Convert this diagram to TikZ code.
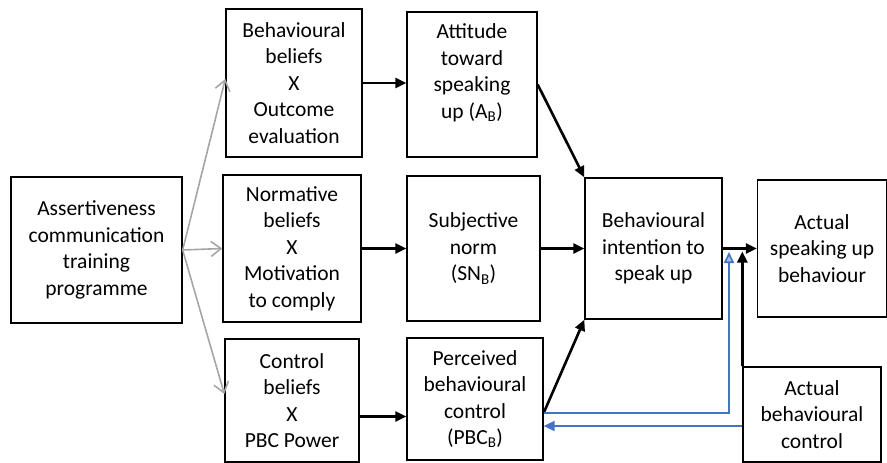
\documentclass[tikz,border=0pt]{standalone}
\usepackage{fontspec}
\setmainfont{Carlito}
\usetikzlibrary{arrows.meta}
\definecolor{arrowgray}{HTML}{A6A6A6}
\definecolor{officeblue}{HTML}{4472C4}
\definecolor{lightblue}{HTML}{A9BEE6}

\begin{document}
\begin{tikzpicture}[x=1pt, y=-1pt,
    box/.style={rectangle, draw, line width=1.3pt, align=center, inner sep=2pt,
                font=\fontsize{21.5}{26.5}\selectfont},
    grayarrow/.style={draw=arrowgray, line width=1.6pt, -{Straight Barb[length=10pt, width=15pt]}},
    blackarrow/.style={line width=2.6pt, -{Triangle[length=11pt, width=10pt]}},
    bluearrow/.style={draw=officeblue, line width=1.6pt}]
                                \useasboundingbox (0,0) rectangle (887,463);

                                \node (train) at (96.5, 250) [box, minimum width=171, minimum height=146] {Assertiveness\\communication\\training\\programme};

                                \node (bb) at (294, 83) [box, minimum width=136, minimum height=148] {Behavioural\\beliefs\\X\\Outcome\\evaluation};
                                \node (nb) at (292, 248.5) [box, minimum width=138, minimum height=147] {Normative\\beliefs\\X\\Motivation\\to comply};
                                \node (cb) at (292, 400.5) [box, minimum width=134, minimum height=123] {Control\\beliefs\\X\\PBC Power};

                                \node (att) at (472, 84.5) [box, minimum width=130, minimum height=145] {Attitude\\toward\\speaking\\up (A\textsubscript{B})\\\mbox{}};
                                \node (sn) at (473.5, 248.5) [box, minimum width=133, minimum height=145] {Subjective\\norm\\(SN\textsubscript{B})};
                                \node (pbc) at (475, 399) [box, minimum width=136, minimum height=122] {Perceived\\behavioural\\control\\(PBC\textsubscript{B})};

                                \node (bi) at (653.5, 248.5) [box, minimum width=137, minimum height=141] {Behavioural\\intention to\\speak up};
                                \node (asb) at (822, 248.5) [box, minimum width=129, minimum height=137] {Actual\\speaking up\\behaviour};
                                \node (abc) at (812, 414.5) [box, minimum width=138, minimum height=95] {Actual\\behavioural\\control};

                                \coordinate (turn) at (729, 413);
                                \coordinate (meet) at (729, 252);

                                \draw[grayarrow] (train.east) to ([yshift=4pt]bb.west);
                                \draw[grayarrow] (train.east) to (nb.west);
                                \draw[grayarrow] (train.east) to ([yshift=6.5pt]cb.west);

                                \draw[blackarrow] (bb.east) to (bb.east -| att.west);
                                \draw[blackarrow] (nb.east) to (nb.east -| sn.west);
                                \draw[blackarrow] ([yshift=-16pt]cb.east) to ([yshift=-16pt]cb.east -| pbc.west);

                                \draw[blackarrow] (att.east) to (bi.north west);
                                \draw[blackarrow] (sn.east) to (sn.east -| bi.west);
                                \draw[blackarrow] ([yshift=-14pt]pbc.east) to (bi.south west);

                                \draw[blackarrow] (bi.east) to (bi.east -| asb.west);
                                \draw[blackarrow] (abc.north west) to ([yshift=-3pt]abc.north west |- bi.east);

                                \draw[bluearrow, -{Triangle[length=11pt, width=10pt, fill=lightblue]}] ([yshift=-14pt]pbc.east) -- (turn) -- (meet);
                                \draw[bluearrow, -{Triangle[length=11pt, width=10pt]}] ([yshift=-11.5pt]abc.west) to ([yshift=-11.5pt]abc.west -| pbc.east);
                            \end{tikzpicture}
\end{document}
